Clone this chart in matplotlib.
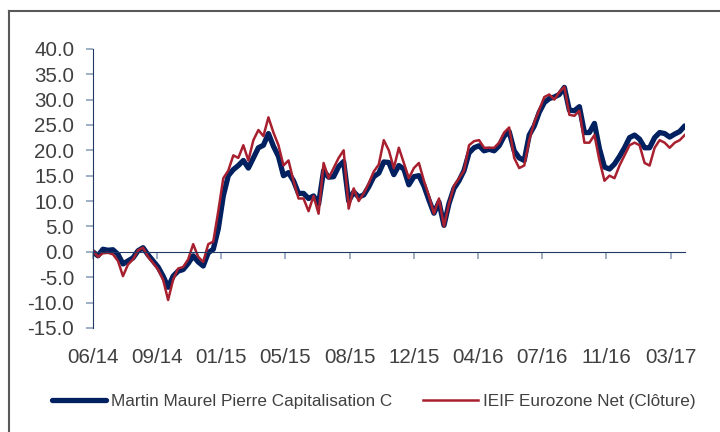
import matplotlib.pyplot as plt
from matplotlib.lines import Line2D
import numpy as np

# performance since 06/2014, in % (about one point every 6 trading days)
fund = [0.0, -0.8, 0.5, 0.3, 0.4, -0.5, -2.4, -1.8, -1.2, 0.2,
        0.8, -0.6, -1.8, -3.0, -4.8, -7.0, -4.8, -3.8, -3.5, -2.3,
        -0.8, -2.0, -2.8, -0.2, 0.5, 4.5, 11.0, 15.0, 16.2, 17.0,
        18.0, 16.5, 18.5, 20.5, 21.0, 23.3, 20.8, 18.8, 15.0, 15.6,
        14.0, 11.5, 11.5, 10.5, 11.0, 9.4, 16.0, 14.7, 14.8, 16.8,
        17.8, 10.0, 11.8, 10.8, 11.2, 12.8, 14.8, 15.5, 17.7, 17.6,
        15.2, 17.0, 16.3, 13.2, 14.8, 15.0, 13.0, 10.2, 7.6, 9.8,
        5.2, 9.5, 12.5, 14.0, 16.0, 19.5, 20.5, 20.9, 19.9, 20.2,
        19.9, 20.9, 22.8, 23.7, 19.9, 18.5, 18.0, 23.0, 24.8, 27.5,
        29.4, 30.2, 30.5, 31.0, 32.4, 27.9, 27.8, 28.6, 23.5, 23.5,
        25.3, 20.3, 16.7, 16.3, 17.3, 18.8, 20.5, 22.5, 23.0, 22.2,
        20.5, 20.5, 22.5, 23.5, 23.3, 22.6, 23.2, 23.7, 24.8]

index = [0.3, -1.0, -0.3, -0.2, -0.5, -1.8, -4.8, -2.5, -1.5, 0.3,
         0.8, -1.0, -2.2, -3.5, -5.5, -9.5, -5.5, -3.3, -3.0, -1.5,
         1.5, -1.0, -2.0, 1.5, 2.0, 8.0, 14.5, 16.0, 19.0, 18.5,
         21.0, 18.0, 22.0, 24.0, 22.8, 26.5, 23.5, 21.0, 17.0, 18.0,
         14.0, 10.5, 10.5, 8.0, 11.0, 7.5, 17.5, 14.5, 16.5, 18.5,
         20.0, 8.5, 12.5, 10.0, 11.5, 13.5, 15.8, 17.2, 22.0, 20.0,
         16.5, 20.5, 17.5, 14.5, 16.5, 17.5, 14.0, 11.0, 7.5, 10.5,
         5.0, 9.5, 13.0, 14.5, 16.0, 21.0, 21.8, 22.0, 20.5, 20.5,
         20.5, 21.5, 23.5, 24.5, 18.5, 16.5, 17.0, 22.0, 25.5, 28.0,
         30.5, 31.0, 30.0, 31.5, 32.5, 27.0, 26.8, 27.8, 21.5, 21.5,
         23.0, 18.0, 14.0, 15.0, 14.5, 17.0, 19.0, 21.0, 21.5, 21.0,
         17.5, 17.0, 20.5, 22.0, 21.5, 20.5, 21.5, 22.0, 23.0]

tick_labels = ['06/14', '09/14', '01/15', '05/15', '08/15',
               '12/15', '04/16', '07/16', '11/16', '03/17']

fund_name = 'Martin Maurel Pierre Capitalisation C'
index_name = 'IEIF Eurozone Net (Clôture)'

plt.rcParams['font.family'] = ['Liberation Sans', 'DejaVu Sans']
text_col = '#404040'
navy = '#002060'
red = '#A8202F'
axis_col = '#1F3864'
tick_col = '#8DA2BC'

fig = plt.figure(figsize=(7.2, 4.32), dpi=100)
ax = fig.add_axes([0.129, 0.241, 0.822, 0.646])

x = np.arange(len(fund))
ax.plot(x, fund, color=navy, lw=3.8, solid_capstyle='round', label=fund_name)
ax.plot(x, index, color=red, lw=1.8, label=index_name)

ax.set_ylim(-15, 40)
ax.set_yticks(np.arange(-15, 41, 5))
ax.set_yticklabels(['%.1f' % v for v in np.arange(-15, 41, 5)])
ax.set_xlim(0, len(fund) - 1)
step = (len(fund) - 1) * 64.0 / 590
ax.set_xticks(np.arange(len(tick_labels)) * step)
ax.set_xticklabels(tick_labels)

for s in ['top', 'right']:
    ax.spines[s].set_visible(False)
ax.spines['left'].set_color(axis_col)
ax.spines['bottom'].set_color(axis_col)
ax.spines['bottom'].set_position(('data', 0))

ax.tick_params(axis='y', length=5, color=tick_col, width=1.2, labelsize=14.8,
               labelcolor=text_col, pad=8.5)
ax.tick_params(axis='x', length=5, color=tick_col, width=1.2, labelsize=14.8,
               labelcolor=text_col, pad=64)

leg = fig.legend(loc='center', bbox_to_anchor=(0.519, 0.071), ncol=2, frameon=False,
                 fontsize=12.3, handlelength=3.2, columnspacing=1.8, handletextpad=0.3)
for t in leg.get_texts():
    t.set_color(text_col)

# outer frame
fig.add_artist(Line2D([9 / 720, 9 / 720], [0, 1 - 11 / 432], transform=fig.transFigure,
                      color='#595959', lw=1.5))
fig.add_artist(Line2D([9 / 720, 1], [1 - 11 / 432, 1 - 11 / 432], transform=fig.transFigure,
                      color='#595959', lw=1.5))

fig.savefig('out.png', dpi=100)
